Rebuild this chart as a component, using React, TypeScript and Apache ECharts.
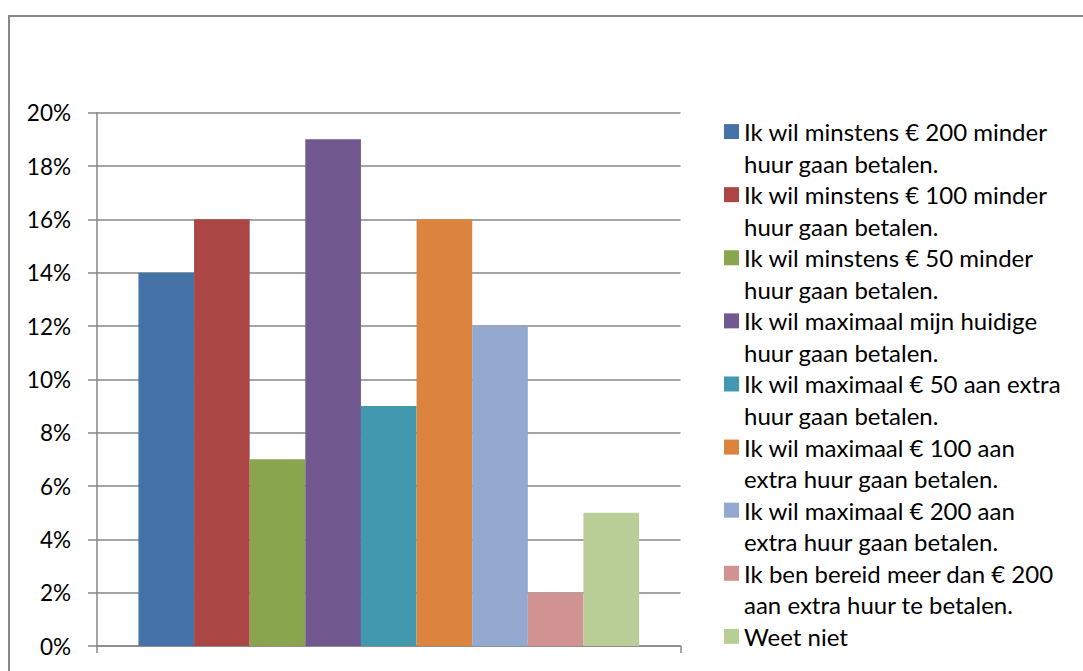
import React, { useEffect, useRef } from "react";
import * as echarts from "echarts";

const categories = [""];
const seriesNames = [
  "Ik wil minstens € 200 minder\nhuur gaan betalen.",
  "Ik wil minstens € 100 minder\nhuur gaan betalen.",
  "Ik wil minstens € 50 minder\nhuur gaan betalen.",
  "Ik wil maximaal mijn huidige\nhuur gaan betalen.",
  "Ik wil maximaal € 50 aan extra\nhuur gaan betalen.",
  "Ik wil maximaal € 100 aan\nextra huur gaan betalen.",
  "Ik wil maximaal € 200 aan\nextra huur gaan betalen.",
  "Ik ben bereid meer dan € 200\naan extra huur te betalen.",
  "Weet niet",
];
const seriesValues = [14, 16, 7, 19, 9, 16, 12, 2, 5];
const seriesColors = [
  "#4572A7",
  "#AA4643",
  "#89A54E",
  "#71588F",
  "#4198AF",
  "#DB843D",
  "#93A9CF",
  "#D19392",
  "#B9CD96",
];
const yTicks = [0, 2, 4, 6, 8, 10, 12, 14, 16, 18, 20];

const FONT = "Lato";
const FS = 24;
const LH = 31.55;

export default function App() {
  const ref = useRef<HTMLDivElement>(null);
  useEffect(() => {
    if (!ref.current) return;
    const chart = echarts.init(ref.current, undefined, { renderer: "svg" });
    const option = {
      animation: false,
      textStyle: { fontFamily: FONT },
      graphic: [
        {
          type: "rect",
          shape: { x: 9, y: 16, width: 1200, height: 800 },
          style: { fill: "none", stroke: "#888888", lineWidth: 2 },
          silent: true,
        },
      ],
      grid: { left: 97, right: 402.5, top: 112.7, bottom: 25, containLabel: false },
      xAxis: {
        type: "category",
        data: categories,
        axisLine: { show: true, lineStyle: { color: "#878787", width: 1.5 } },
        axisTick: { show: true, length: 7, lineStyle: { color: "#878787", width: 1.5 } },
        axisLabel: { show: false },
      },
      yAxis: {
        type: "value",
        min: yTicks[0],
        max: yTicks[yTicks.length - 1],
        interval: 2,
        axisLine: { show: true, lineStyle: { color: "#878787", width: 1.5 } },
        axisTick: { show: true, length: 9, lineStyle: { color: "#878787", width: 1.5 } },
        splitLine: { show: true, lineStyle: { color: "#878787", width: 1.5 } },
        axisLabel: {
          formatter: (v: number) => v + "%",
          color: "#000000",
          fontFamily: FONT,
          fontSize: 22.5,
          margin: 26,
        },
      },
      legend: {
        orient: "vertical",
        left: 724,
        top: 84.25,
        height: 660,
        padding: 0,
        itemWidth: 15,
        itemHeight: 15,
        itemGap: 63.1 - 3 * LH,
        selectedMode: false,
        icon: "rect",
        formatter: (name: string) =>
          name.indexOf("\n") >= 0 ? " \n" + name : " \n" + name + "\n ",
        textStyle: { fontFamily: FONT, fontSize: FS, color: "#000000", lineHeight: LH },
        data: seriesNames,
      },
      series: seriesNames.map((n, i) => ({
        type: "bar",
        name: n,
        data: [seriesValues[i]],
        barGap: "0%",
        barCategoryGap: "14.2%",
        itemStyle: { color: seriesColors[i] },
      })),
    };
    chart.setOption(option);
    return () => chart.dispose();
  }, []);
  return (
    <div
      ref={ref}
      style={{ position: "fixed", left: 0, top: 0, width: 1083, height: 671, background: "#ffffff" }}
    />
  );
}
